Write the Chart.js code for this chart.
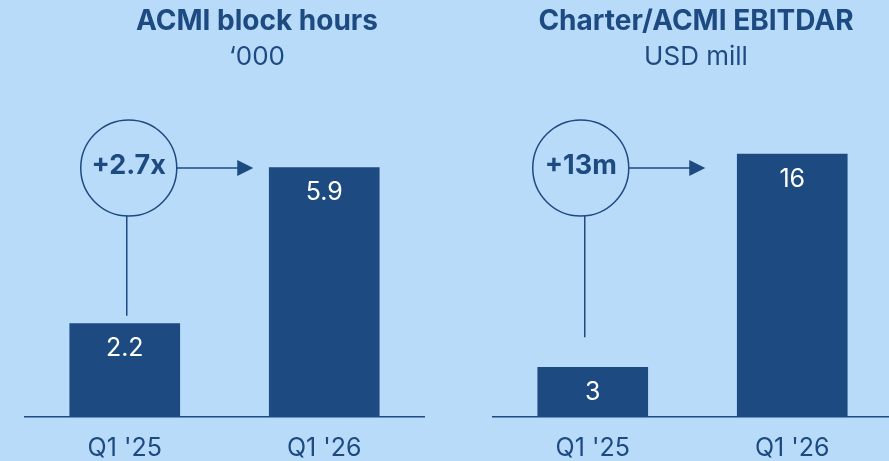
<!DOCTYPE html>
<html>
<head>
<meta charset="utf-8">
<script src="https://cdn.jsdelivr.net/npm/chart.js@4.4.1/dist/chart.umd.min.js"></script>
<style>
  html, body { margin: 0; padding: 0; }
  body { width: 889px; height: 461px; overflow: hidden; position: relative; background: #b9dbfa; }
  .panel { position: absolute; top: 0; height: 461px; }
  #blockHoursWrap { left: 0; width: 514px; }
  #ebitdarWrap { left: 480px; width: 432px; }
</style>
</head>
<body>
<div class="panel" id="blockHoursWrap"><canvas id="blockHours"></canvas></div>
<div class="panel" id="ebitdarWrap"><canvas id="ebitdar"></canvas></div>

<script>
const quarters = ["Q1 '25", "Q1 '26"];

const blockHours = [2.2, 5.9];
const blockHoursTitle = 'ACMI block hours';
const blockHoursUnit = '\u2018000';
const blockHoursChange = '+2.7x';

const ebitdar = [3, 16];
const ebitdarTitle = 'Charter/ACMI EBITDAR';
const ebitdarUnit = 'USD mill';
const ebitdarChange = '+13m';

const navy = '#1d4a80';
const fontFamily = 'Inter, "Noto Sans", sans-serif';

// title + unit line, circle badge with leader line and arrow, values inside bars
const growthBadge = {
  id: 'growthBadge',
  afterDraw(chart, args, opts) {
    const ctx = chart.ctx;
    const bars = chart.getDatasetMeta(0).data;
    const first = bars[0], second = bars[1];

    ctx.save();
    ctx.fillStyle = navy;
    ctx.textAlign = 'center';
    ctx.textBaseline = 'middle';
    ctx.font = 'bold 28px ' + fontFamily;
    ctx.fillText(opts.title, opts.titleX, 22);
    ctx.font = '26px ' + fontFamily;
    ctx.fillText(opts.unit, opts.titleX, 57);

    // values inside the bars
    ctx.fillStyle = '#ffffff';
    ctx.font = '25px ' + fontFamily;
    bars.forEach((bar, i) => {
      const v = chart.data.datasets[0].data[i];
      ctx.fillText(String(v), bar.x, bar.y + 25);
    });

    const cx = first.x + opts.dx;
    const cy = 168;
    const r = 48;
    ctx.strokeStyle = navy;
    ctx.lineWidth = 1.5;

    ctx.beginPath();
    ctx.arc(cx, cy, r, 0, Math.PI * 2);
    ctx.stroke();

    // leader down to the first bar
    const lx = first.x + opts.lineDx;
    ctx.beginPath();
    ctx.moveTo(lx, cy + r);
    ctx.lineTo(lx, first.y - opts.lineGap);
    ctx.stroke();

    // arrow towards the second bar
    const tip = second.x - second.width / 2 - opts.arrowGap;
    ctx.beginPath();
    ctx.moveTo(cx + r, cy);
    ctx.lineTo(tip - 14, cy);
    ctx.stroke();
    ctx.fillStyle = navy;
    ctx.beginPath();
    ctx.moveTo(tip, cy);
    ctx.lineTo(tip - 16, cy - 8);
    ctx.lineTo(tip - 16, cy + 8);
    ctx.closePath();
    ctx.fill();

    ctx.font = 'bold 27px ' + fontFamily;
    ctx.fillText(opts.text, cx, cy - 2);
    ctx.restore();
  }
};

function makeChart(id, values, yMax, pad, badge) {
  return new Chart(document.getElementById(id), {
    type: 'bar',
    data: {
      labels: quarters,
      datasets: [{
        data: values,
        backgroundColor: navy,
        barThickness: 110
      }]
    },
    options: {
      responsive: true,
      maintainAspectRatio: false,
      animation: false,
      events: [],
      layout: { padding: { left: pad.left, right: pad.right, top: 100, bottom: 0 } },
      plugins: {
        legend: { display: false },
        tooltip: { enabled: false },
        growthBadge: badge
      },
      scales: {
        x: {
          grid: { display: false },
          border: { display: true, color: navy, width: 1.5 },
          ticks: {
            color: navy,
            padding: 9,
            font: { family: fontFamily, size: 25 }
          },
          afterFit: (scale) => { scale.height = 44.5; }
        },
        y: {
          display: false,
          min: 0,
          max: yMax
        }
      }
    },
    plugins: [growthBadge]
  });
}

makeChart('blockHours', blockHours, 7.5, { left: 25, right: 90 }, {
  title: blockHoursTitle, unit: blockHoursUnit, titleX: 257,
  text: blockHoursChange, dx: 4, lineDx: 2, lineGap: 8, arrowGap: 16
});

makeChart('ebitdar', ebitdar, 19.3, { left: 13, right: 20 }, {
  title: ebitdarTitle, unit: ebitdarUnit, titleX: 216,
  text: ebitdarChange, dx: -12, lineDx: -8, lineGap: 30, arrowGap: 32
});
</script>
</body>
</html>
